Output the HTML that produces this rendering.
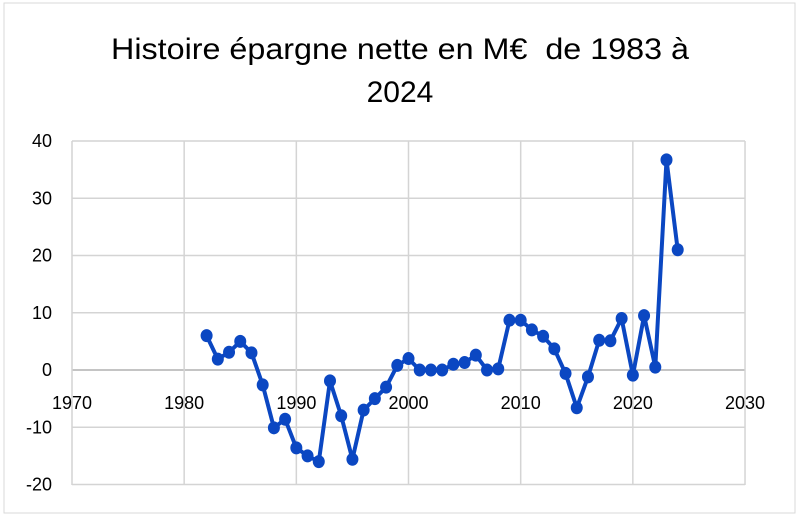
<!DOCTYPE html>
<html><head><meta charset="utf-8"><style>
html,body{margin:0;padding:0;background:#fff;}
svg{display:block;font-family:"Liberation Sans",sans-serif;}
</style></head><body>
<svg width="800" height="517" viewBox="0 0 800 517" xmlns="http://www.w3.org/2000/svg">
<rect x="4" y="3" width="791" height="510" fill="#fff" stroke="#d9d9d9" stroke-width="1"/>
<text x="111" y="59" font-size="30" textLength="578" lengthAdjust="spacingAndGlyphs" fill="#000" xml:space="preserve">Histoire épargne nette en M€  de 1983 à</text>
<text x="400" y="102" font-size="30" text-anchor="middle" fill="#000">2024</text>
<g stroke="#d4d4d4" stroke-width="1.5" fill="none" id="grid"></g>
<g id="labels" font-size="18" fill="#000"></g>
<polyline id="line" fill="none" stroke="#0b47c2" stroke-width="4" stroke-linejoin="round"/>
<g id="pts" fill="#0b47c2"></g>
<script>
var X0=72,XS=11.217,Y0=370,YS=5.725;
var g=document.getElementById('grid'),lb=document.getElementById('labels');
var ns='http://www.w3.org/2000/svg';
function el(p,t,a,txt){var e=document.createElementNS(ns,t);for(var k in a)e.setAttribute(k,a[k]);if(txt)e.textContent=txt;p.appendChild(e);return e;}
for(var v=-20;v<=40;v+=10){var y=Y0-v*YS;el(g,'line',{x1:72,x2:745,y1:y,y2:y,stroke:v==0?'#b0b0b0':'#d4d4d4'});
el(lb,'text',{x:52,y:y+6,'text-anchor':'end'},String(v));}
for(var yr=1970;yr<=2030;yr+=10){var x=X0+(yr-1970)*XS;el(g,'line',{x1:x,x2:x,y1:141,y2:485});
el(lb,'text',{x:x,y:409,'text-anchor':'middle'},String(yr));}
var d=[6.0,1.9,3.1,5.0,3.0,-2.6,-10.1,-8.6,-13.6,-15.0,-16.0,-1.9,-8.0,-15.6,-7.0,-5.0,-3.0,0.8,2.0,0,0,0,1.0,1.3,2.6,0,0.2,8.7,8.7,7.0,5.9,3.7,-0.6,-6.6,-1.2,5.2,5.1,9.0,-0.9,9.5,0.5,36.7,21.0];
var pts=[],pg=document.getElementById('pts');
d.forEach(function(v,i){var x=X0+(1982+i-1970)*XS,y=Y0-v*YS;pts.push(x.toFixed(1)+','+y.toFixed(1));el(pg,'ellipse',{cx:x,cy:y,rx:6,ry:6.5});});
document.getElementById('line').setAttribute('points',pts.join(' '));
</script>
</svg>
</body></html>
